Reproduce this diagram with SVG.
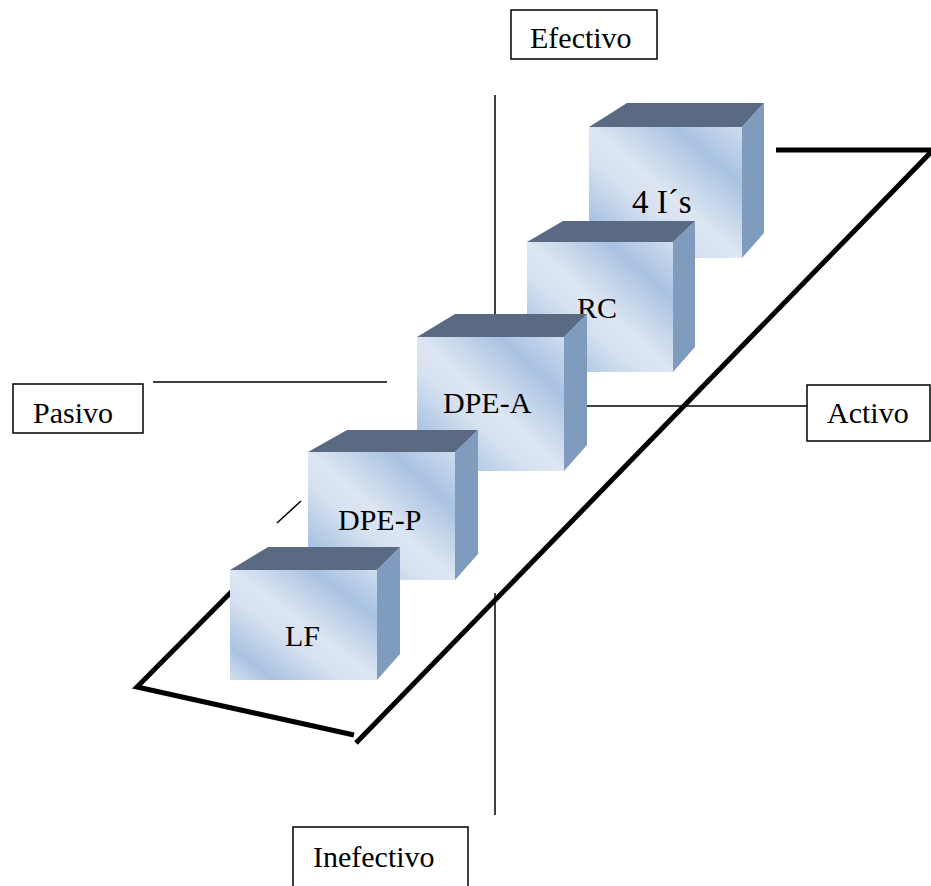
<svg xmlns="http://www.w3.org/2000/svg" width="931" height="886" viewBox="0 0 931 886">
<defs>
<linearGradient id="front" x1="1" y1="0" x2="0" y2="1">
<stop offset="0" stop-color="#cfdcee"/>
<stop offset="0.22" stop-color="#a9c2e2"/>
<stop offset="0.5" stop-color="#dde6f2"/>
<stop offset="0.62" stop-color="#d6e1f0"/>
<stop offset="0.85" stop-color="#a9c2e2"/>
<stop offset="1" stop-color="#d4e0ef"/>
</linearGradient>
</defs>
<style>
.front{fill:url(#front)}
.top{fill:#5a6a82}
.side{fill:#7f9bbd}
.thin{stroke:#000;stroke-width:1.5;fill:none}
.thick{stroke:#000;stroke-width:5;fill:none}
.box{fill:#fff;stroke:#000;stroke-width:1.5}
text{font-family:"Liberation Serif","Times New Roman",serif;font-size:30px;fill:#000}
</style>
<g id="connectors">
<line class="thin" x1="495" y1="95" x2="495" y2="320"/>
<line class="thin" x1="495" y1="593" x2="495" y2="815"/>
<line class="thin" x1="153" y1="382" x2="387" y2="382"/>
<line class="thin" x1="560" y1="406" x2="807" y2="406"/>
<line class="thin" x1="277" y1="523" x2="301" y2="501"/>
<polyline class="thick" points="776,150 934,150"/>
<line class="thick" x1="934" y1="149" x2="356" y2="743"/>
<polyline class="thick" points="260,563 137,687 354,735"/>
</g>
<g id="box-efectivo"><rect class="box" x="511" y="10" width="146" height="49"/><text x="530" y="48">Efectivo</text></g>
<g id="box-inefectivo"><rect class="box" x="293" y="827" width="175" height="70"/><text x="313" y="867">Inefectivo</text></g>
<g id="box-pasivo"><rect class="box" x="13" y="384" width="130" height="49"/><text x="33" y="423">Pasivo</text></g>
<g id="box-activo"><rect class="box" x="807" y="385" width="123" height="56"/><text x="827" y="423">Activo</text></g>
<g id="cube-4is">
<polygon class="top" points="589,127 627,103 764,103 742,127"/>
<polygon class="side" points="742,127 764,103 764,233 742,258"/>
<rect class="front" x="589" y="127" width="153" height="131"/>
<text x="632" y="213" style="font-size:33px">4 I´s</text>
</g>
<g id="cube-rc">
<polygon class="top" points="527,242 563,221 695,221 673,242"/>
<polygon class="side" points="673,242 695,221 695,347 673,372"/>
<rect class="front" x="527" y="242" width="146" height="130"/>
<text x="577" y="318">RC</text>
</g>
<g id="cube-dpea">
<polygon class="top" points="417,337 455,314 587,314 564,337"/>
<polygon class="side" points="564,337 587,314 587,445 564,471"/>
<rect class="front" x="417" y="337" width="147" height="134"/>
<text x="443" y="413">DPE-A</text>
</g>
<g id="cube-dpep">
<polygon class="top" points="308,452 347,430 478,430 455,452"/>
<polygon class="side" points="455,452 478,430 478,554 455,580"/>
<rect class="front" x="308" y="452" width="147" height="128"/>
<text x="338" y="530">DPE-P</text>
</g>
<g id="cube-lf">
<polygon class="top" points="230,570 268,547 400,547 377,570"/>
<polygon class="side" points="377,570 400,547 400,654 377,680"/>
<rect class="front" x="230" y="570" width="147" height="110"/>
<text x="285" y="646">LF</text>
</g>
</svg>
